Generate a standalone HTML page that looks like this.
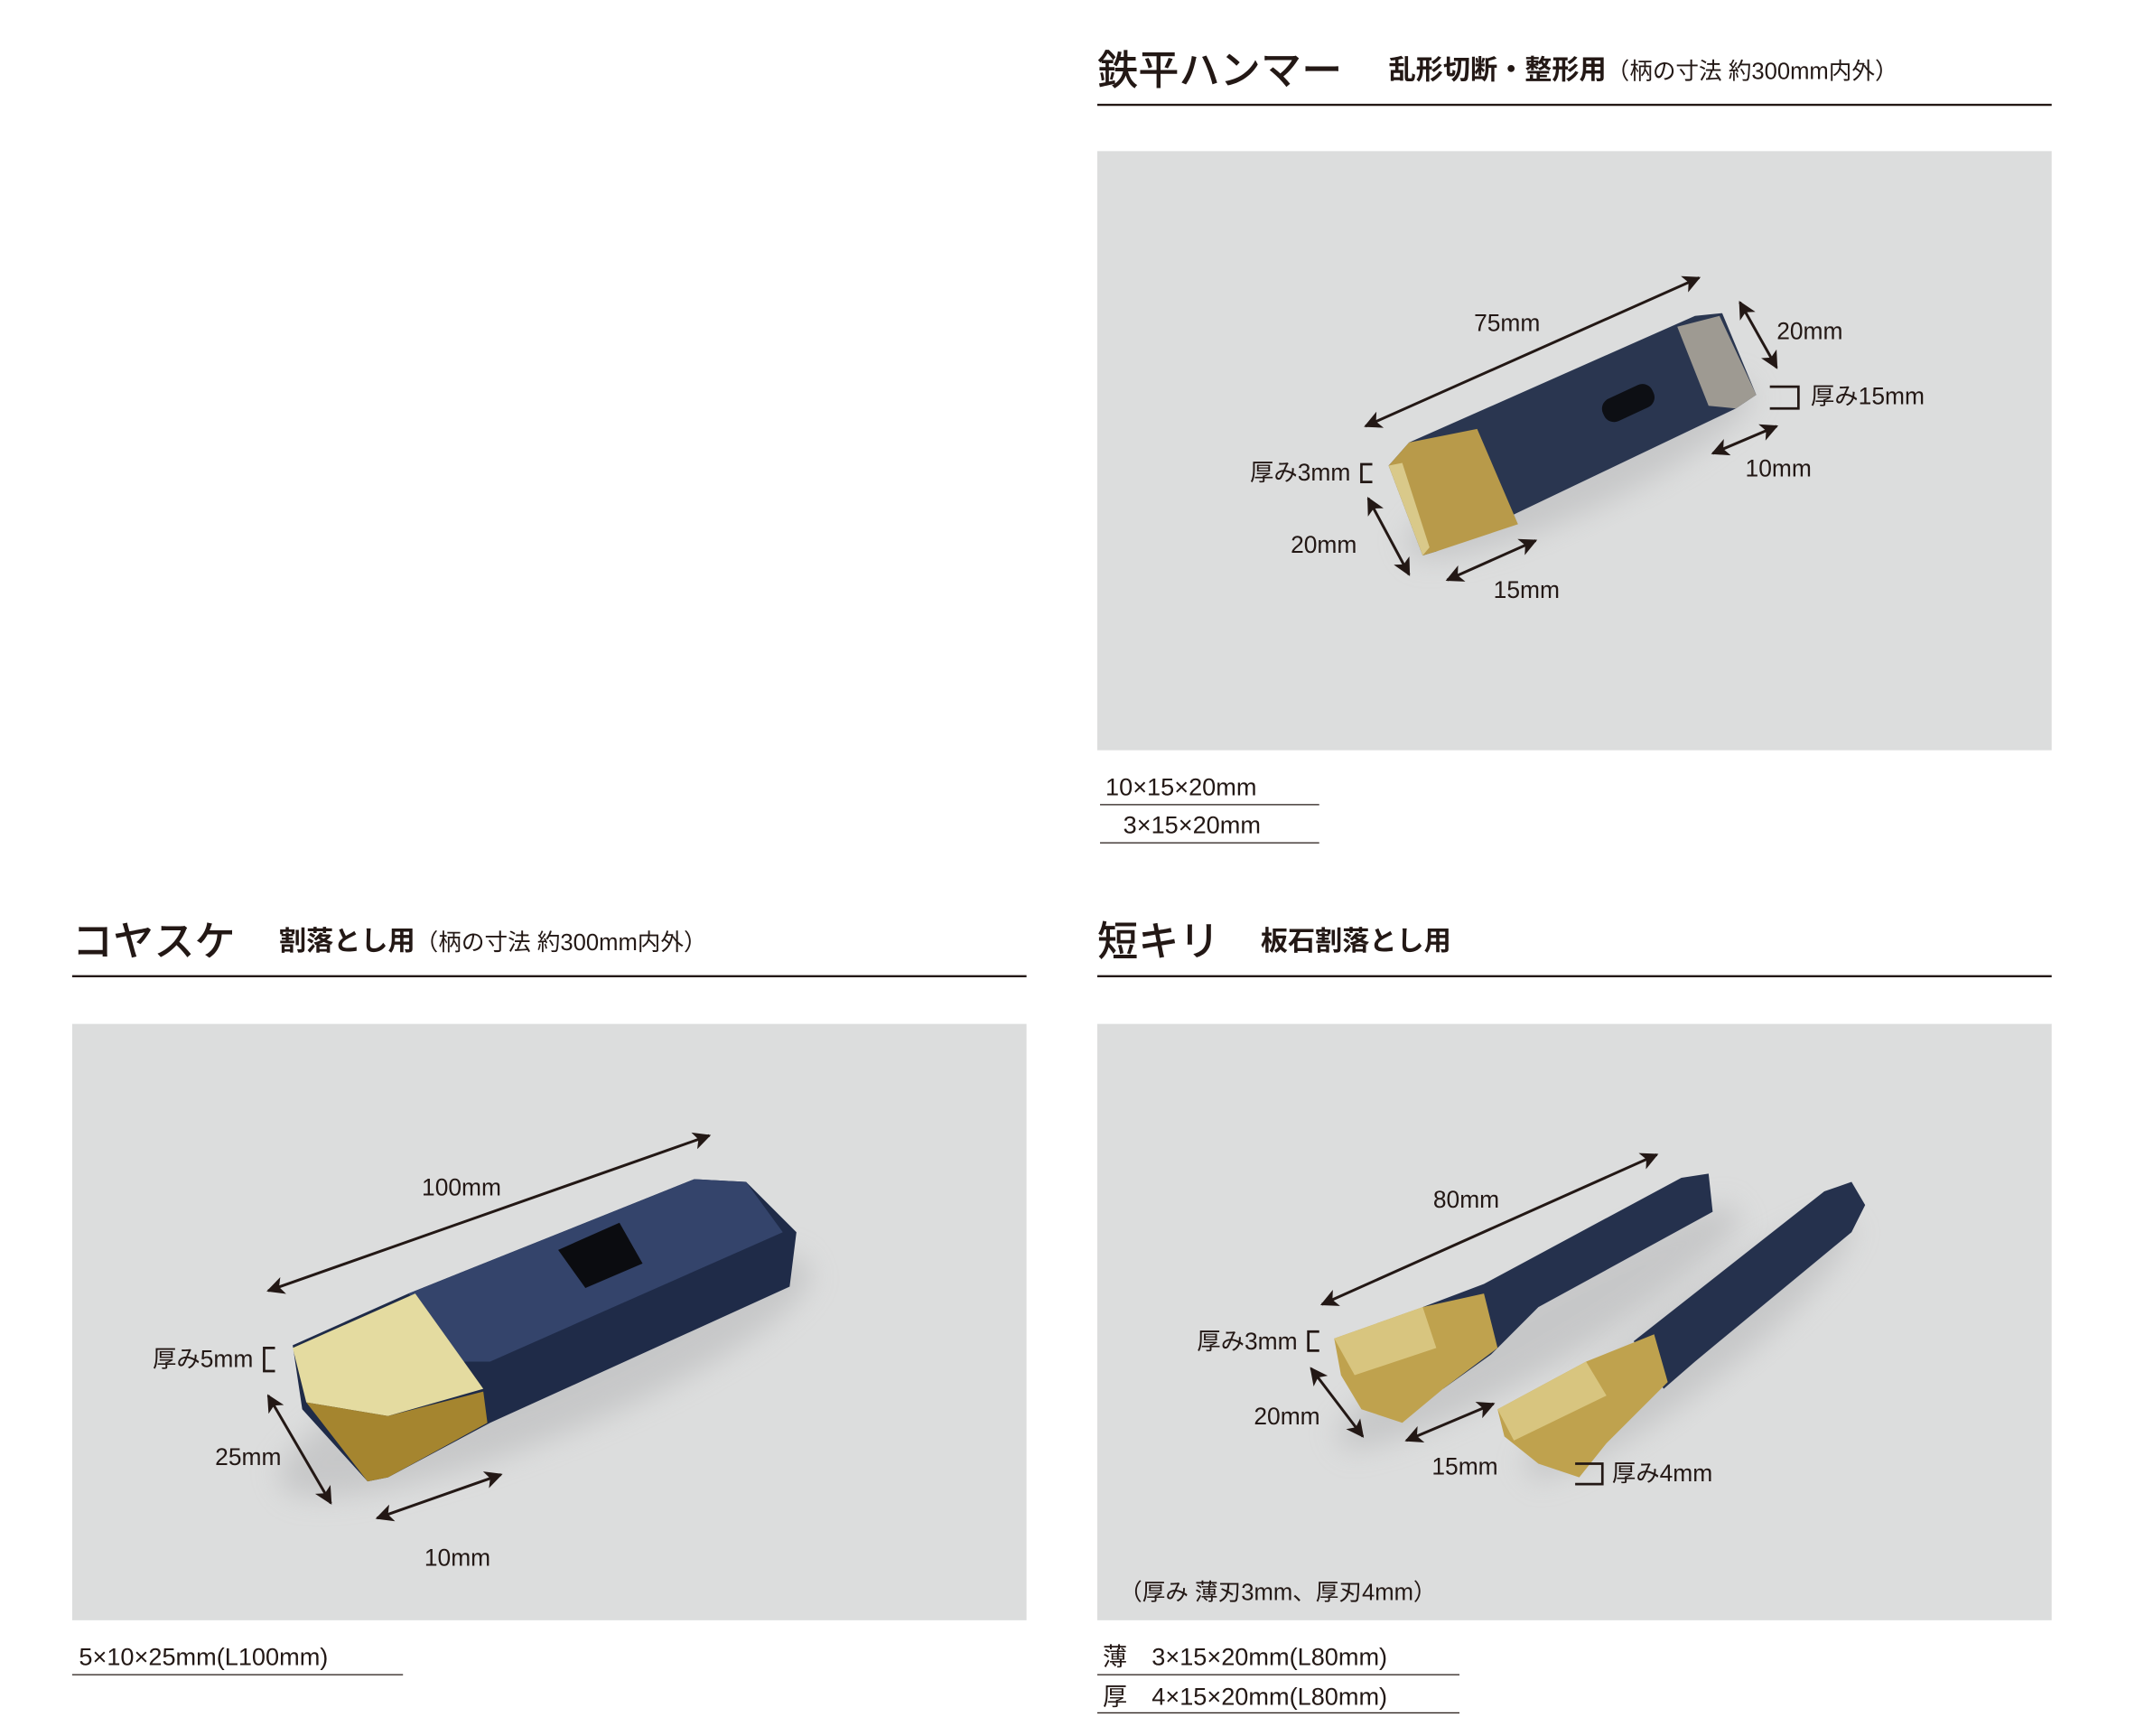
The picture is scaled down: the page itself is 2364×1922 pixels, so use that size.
<!DOCTYPE html>
<html><head><meta charset="utf-8"><style>
html,body{margin:0;padding:0;background:#fff;width:2364px;height:1922px;overflow:hidden}
svg{display:block}
text{font-family:"Liberation Sans","Noto Sans CJK JP",sans-serif;fill:#231815}
</style></head><body>
<svg width="2364" height="1922" viewBox="0 0 1568 1275" preserveAspectRatio="xMinYMin meet" xmlns="http://www.w3.org/2000/svg">
<defs>
<marker id="a" viewBox="0 0 10 10" refX="9" refY="5" markerWidth="15" markerHeight="13" orient="auto-start-reverse" markerUnits="userSpaceOnUse"><path d="M0,0 L10,5 L0,10 L2.5,5 z" fill="#231815"/></marker>
<filter id="b" x="-30%" y="-30%" width="160%" height="160%"><feGaussianBlur stdDeviation="10"/></filter>
</defs>
<g stroke="#231815" stroke-width="1.6" fill="none">
<line x1="806" y1="77" x2="1507" y2="77"/>
<line x1="53" y1="717" x2="754" y2="717"/>
<line x1="806" y1="717" x2="1507" y2="717"/>
<line x1="808" y1="591" x2="969" y2="591" stroke-width="0.8"/>
<line x1="808" y1="619" x2="969" y2="619" stroke-width="0.8"/>
<line x1="53" y1="1230" x2="296" y2="1230" stroke-width="0.8"/>
<line x1="806" y1="1230" x2="1072" y2="1230" stroke-width="0.8"/>
<line x1="806" y1="1258" x2="1072" y2="1258" stroke-width="0.8"/>
</g>
<rect x="806" y="111" width="701" height="440" fill="#dcdddd"/>
<rect x="53" y="752" width="701" height="438" fill="#dcdddd"/>
<rect x="806" y="752" width="701" height="438" fill="#dcdddd"/>

<text x="806" y="62" font-size="30" font-weight="500">鉄平ハンマー</text>
<text x="1020" y="58" font-size="20" font-weight="700">乱形切断・整形用<tspan font-size="17" font-weight="400">（柄の寸法 約300mm内外）</tspan></text>
<text x="53" y="702" font-size="30" font-weight="500">コヤスケ</text>
<text x="205" y="698" font-size="20" font-weight="700">割落とし用<tspan font-size="17" font-weight="400">（柄の寸法 約300mm内外）</tspan></text>
<text x="806" y="702" font-size="30" font-weight="500">短キリ</text>
<text x="926" y="698" font-size="20" font-weight="700">板石割落とし用</text>

<g font-size="18">
<text x="812" y="584">10×15×20mm</text>
<text x="825" y="612">3×15×20mm</text>
<text x="58" y="1223">5×10×25mm(L100mm)</text>
<text x="810" y="1223">薄　3×15×20mm(L80mm)</text>
<text x="810" y="1252">厚　4×15×20mm(L80mm)</text>
<text x="822" y="1175" font-size="17">（厚み 薄刃3mm、厚刃4mm）</text>
</g>

<ellipse cx="1160" cy="345" rx="140" ry="30" transform="rotate(-25 1160 345)" fill="#b9babb" opacity="0.6" filter="url(#b)"/>
<polygon points="1020,342 1035,325 1245,232 1265,230 1290,290 1275,300 1055,405 1045,408" fill="#2a3650"/>
<polygon points="1020,342 1035,325 1085,315 1115,385 1055,405 1045,408" fill="#b89a4a"/>
<polygon points="1020,342 1030,340 1050,402 1045,408" fill="#d9c98a"/>
<polygon points="1232,240 1263,232 1290,290 1275,300 1255,298" fill="#9e9a92"/>
<rect x="1176" y="287" width="40" height="18" rx="8" transform="rotate(-25 1196 296)" fill="#0d0f14"/>

<ellipse cx="400" cy="1010" rx="210" ry="45" transform="rotate(-22 400 1010)" fill="#b9babb" opacity="0.6" filter="url(#b)"/>
<polygon points="215,988 300,950 510,866 548,868 585,905 580,945 360,1045 285,1085 270,1088 222,1035" fill="#1f2b48"/>
<polygon points="300,950 510,866 548,868 575,905 360,1000 340,1000" fill="#34446b"/>
<polygon points="215,990 305,950 355,1020 285,1040 225,1030" fill="#e4dba0"/>
<polygon points="225,1030 285,1040 355,1022 358,1045 285,1085 270,1088" fill="#a5852f"/>
<polygon points="410,918 455,898 472,928 430,946" fill="#0b0c10"/>

<ellipse cx="1130" cy="975" rx="170" ry="30" transform="rotate(-30 1130 975)" fill="#b9babb" opacity="0.6" filter="url(#b)"/>
<ellipse cx="1240" cy="990" rx="150" ry="30" transform="rotate(-38 1240 990)" fill="#b9babb" opacity="0.6" filter="url(#b)"/>
<polygon points="1045,960 1090,943 1235,865 1255,862 1258,890 1130,960 1095,995 1060,1020" fill="#25314d"/>
<polygon points="980,983 1045,960 1090,950 1100,990 1060,1020 1030,1045 1000,1035 985,1010" fill="#bfa24e"/>
<polygon points="980,983 1045,960 1055,990 995,1010" fill="#d8c57f"/>
<polygon points="1200,985 1340,875 1360,868 1370,885 1360,905 1245,1000 1222,1020" fill="#25314d"/>
<polygon points="1100,1035 1165,1000 1215,980 1225,1015 1180,1060 1160,1085 1130,1075 1105,1055" fill="#bfa24e"/>
<polygon points="1100,1035 1165,1000 1180,1025 1112,1058" fill="#d8c57f"/>

<g stroke="#231815" stroke-width="2" fill="none" marker-start="url(#a)" marker-end="url(#a)">
<line x1="1003" y1="313" x2="1248" y2="204"/>
<line x1="1278" y1="222" x2="1305" y2="270"/>
<line x1="1258" y1="333" x2="1305" y2="313"/>
<line x1="1005" y1="366" x2="1035" y2="422"/>
<line x1="1063" y1="426" x2="1128" y2="397"/>
<line x1="197" y1="948" x2="521" y2="834"/>
<line x1="197" y1="1025" x2="243" y2="1104"/>
<line x1="277" y1="1115" x2="368" y2="1083"/>
<line x1="971" y1="958" x2="1217" y2="848"/>
<line x1="963" y1="1005" x2="1001" y2="1055"/>
<line x1="1033" y1="1058" x2="1097" y2="1031"/>
</g>
<g stroke="#231815" stroke-width="1.8" fill="none">
<polyline points="1300,284 1321,284 1321,300 1300,300"/>
<polyline points="1008,341 1000,341 1000,354 1008,354"/>
<polyline points="202,990 194,990 194,1007 202,1007"/>
<polyline points="969,978 961,978 961,992 969,992"/>
<polyline points="1157,1075 1177,1075 1177,1090 1157,1090"/>
</g>
<g font-size="17.5">
<text x="1107" y="243" text-anchor="middle">75mm</text>
<text x="1305" y="249">20mm</text>
<text x="1330" y="297">厚み15mm</text>
<text x="1282" y="350">10mm</text>
<text x="992" y="353" text-anchor="end">厚み3mm</text>
<text x="948" y="406">20mm</text>
<text x="1097" y="439">15mm</text>
<text x="339" y="878" text-anchor="middle">100mm</text>
<text x="186" y="1004" text-anchor="end">厚み5mm</text>
<text x="158" y="1076">25mm</text>
<text x="336" y="1150" text-anchor="middle">10mm</text>
<text x="1077" y="887" text-anchor="middle">80mm</text>
<text x="953" y="991" text-anchor="end">厚み3mm</text>
<text x="921" y="1046">20mm</text>
<text x="1076" y="1083" text-anchor="middle">15mm</text>
<text x="1184" y="1088">厚み4mm</text>
</g>
</svg>
</body></html>
